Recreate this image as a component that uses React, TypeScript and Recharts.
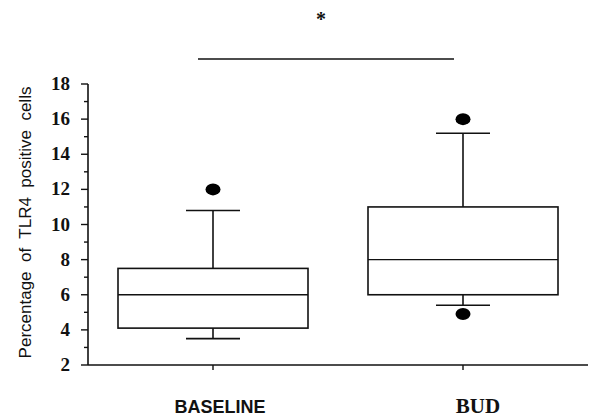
import React from 'react';
import { ComposedChart, Bar, XAxis, YAxis } from 'recharts';

const categories = ['BASELINE', 'BUD'];
const whiskerLow = [3.5, 5.4];
const q1 = [4.1, 6];
const median = [6, 8];
const q3 = [7.5, 11];
const whiskerHigh = [10.8, 15.2];
const outliers = [[12], [16, 4.9]];
const yTicks = [2, 3, 4, 5, 6, 7, 8, 9, 10, 11, 12, 13, 14, 15, 16, 17, 18];

const data = categories.map((name, i) => ({
  name,
  range: [whiskerLow[i], whiskerHigh[i]],
  q1: q1[i],
  median: median[i],
  q3: q3[i],
  outliers: outliers[i],
}));

const SERIF = 'Liberation Serif, DejaVu Serif, serif';
const SANS = 'Liberation Sans, Arial, sans-serif';

// label look differs per category in the original figure
const xLabelStyle: Record<string, { font: string; size: number; dx: number }> = {
  BASELINE: { font: SANS, size: 18, dx: 7 },
  BUD: { font: SERIF, size: 21, dx: 15 },
};

function BoxShape(props: any) {
  const { x, y, width, height, payload } = props;
  const [lo, hi] = payload.range;
  // map a value onto the whisker span that recharts already scaled
  const py = (v: number) => y + (height * (hi - v)) / (hi - lo);
  const cx = x + width / 2;
  const cap = 27;
  return (
    <g stroke="#111" strokeWidth={1.6} fill="none">
      <line x1={cx} x2={cx} y1={py(hi)} y2={py(payload.q3)} />
      <line x1={cx} x2={cx} y1={py(payload.q1)} y2={py(lo)} />
      <line x1={cx - cap} x2={cx + cap} y1={py(hi)} y2={py(hi)} />
      <line x1={cx - cap} x2={cx + cap} y1={py(lo)} y2={py(lo)} />
      <rect x={x} y={py(payload.q3)} width={width} height={py(payload.q1) - py(payload.q3)} fill="#fff" />
      <line x1={x} x2={x + width} y1={py(payload.median)} y2={py(payload.median)} strokeWidth={1.3} />
      {payload.outliers.map((o: number, k: number) => (
        <ellipse key={k} cx={cx} cy={py(o)} rx={7.5} ry={6} fill="#000" stroke="none" />
      ))}
    </g>
  );
}

function YTick(props: any) {
  const { x, y, payload } = props;
  const major = payload.value % 2 === 0;
  return (
    <g>
      <line x1={x - (major ? 7 : 4)} x2={x} y1={y} y2={y} stroke="#111" strokeWidth={1.4} />
      {major && (
        <text x={x - 18} y={y + 6} textAnchor="end" style={{ fontFamily: SERIF, fontWeight: 700, fontSize: 19 }} fill="#111">
          {payload.value}
        </text>
      )}
    </g>
  );
}

function XTick(props: any) {
  const { x, y, payload } = props;
  const s = xLabelStyle[payload.value];
  return (
    <g>
      <line x1={x} x2={x} y1={y} y2={y + 5} stroke="#111" strokeWidth={1.4} />
      <text x={x + s.dx} y={y + 48} textAnchor="middle" style={{ fontFamily: s.font, fontWeight: 700, fontSize: s.size }} fill="#111">
        {payload.value}
      </text>
    </g>
  );
}

function YLabel(props: any) {
  const { viewBox } = props;
  const cy = viewBox.y + viewBox.height / 2 - 2;
  return (
    <text
      x={31}
      y={cy}
      transform={`rotate(-90 31 ${cy})`}
      textAnchor="middle"
      style={{ fontFamily: SANS, fontSize: 17, whiteSpace: 'pre' }}
      fill="#111"
    >
      {'Percentage  of  TLR4  positive  cells'}
    </text>
  );
}

export default function App() {
  return (
    <div style={{ position: 'absolute', left: 0, top: 0, width: 590, height: 417, background: '#fff' }}>
      <ComposedChart width={590} height={417} data={data} margin={{ top: 84, right: 2, bottom: 0, left: 0 }}>
        <XAxis
          dataKey="name"
          height={52}
          tickSize={0}
          tickMargin={0}
          tick={<XTick />}
          axisLine={{ stroke: '#111', strokeWidth: 1.6 }}
          interval={0}
        />
        <YAxis
          type="number"
          domain={[2, 18]}
          ticks={yTicks}
          interval={0}
          allowDataOverflow
          width={88}
          tickSize={0}
          tickMargin={0}
          tick={<YTick />}
          axisLine={{ stroke: '#111', strokeWidth: 1.6 }}
          label={<YLabel />}
        />
        <Bar dataKey="range" barSize={190} shape={<BoxShape />} isAnimationActive={false} />
      </ComposedChart>
      <svg width={590} height={417} style={{ position: 'absolute', left: 0, top: 0, pointerEvents: 'none' }}>
        <line x1={198} x2={454} y1={59} y2={59} stroke="#111" strokeWidth={1.6} />
        <text x={321} y={26} textAnchor="middle" style={{ fontFamily: SERIF, fontWeight: 700, fontSize: 20 }} fill="#111">*</text>
      </svg>
    </div>
  );
}
